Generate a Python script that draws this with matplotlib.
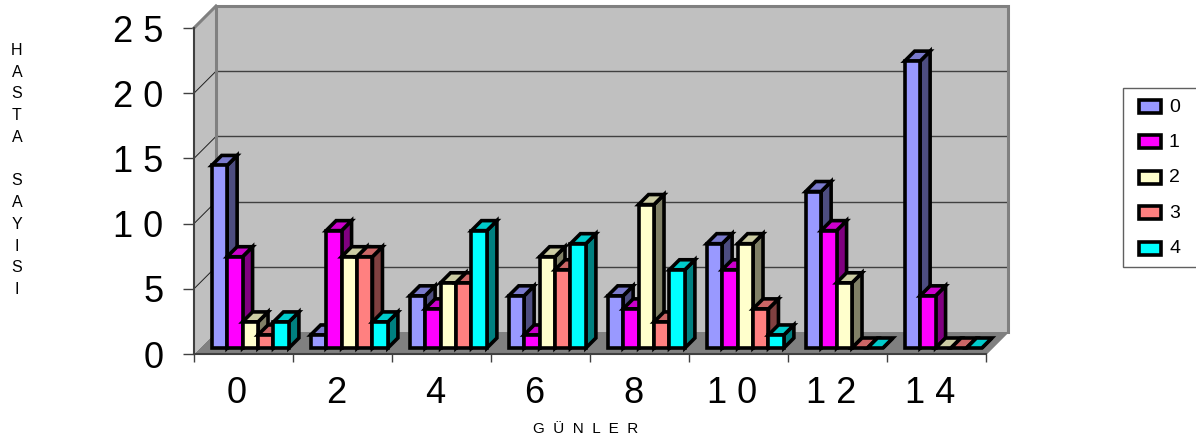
import matplotlib
matplotlib.use("Agg")
import matplotlib.pyplot as plt
from matplotlib.patches import Polygon, Rectangle

plt.rcParams['font.family'] = ['Liberation Sans', 'DejaVu Sans']

days = ['0', '2', '4', '6', '8', '1 0', '1 2', '1 4']
series_names = ['0', '1', '2', '3', '4']
s0 = [14, 1, 4, 4, 4, 8, 12, 22]
s1 = [7, 9, 3, 1, 3, 6, 9, 4]
s2 = [2, 7, 5, 7, 11, 8, 5, 0]
s3 = [1, 7, 5, 6, 2, 3, 0, 0]
s4 = [2, 2, 9, 8, 6, 1, 0, 0]
series = [s0, s1, s2, s3, s4]
y_ticks = [0, 5, 10, 15, 20, 25]
y_labels = ['0', '5', '1 0', '1 5', '2 0', '2 5']

front = ['#9999FF', '#FF00FF', '#FFFFCC', '#FF8080', '#00FFFF']
top = ['#7A7ACC', '#CC00CC', '#CCCCA3', '#CC6666', '#00CCCC']
side = ['#4D4D80', '#800080', '#808066', '#804040', '#008080']

W, H = 1196, 443
# plot box in pixels, front plane of the fake 3d box
left, right, y_base, y_top = 194, 986, 354, 28
wall = 22
bar_depth = 10
bar_inset = 6
gap = 0.22
edge = 2.6

fig = plt.figure(figsize=(W / 100, H / 100), dpi=100)
ax = fig.add_axes([left / W, 1 - y_base / H, (right - left) / W, (y_base - y_top) / H])
ax.set_xlim(0, len(days))
ax.set_ylim(0, 25)
ax.patch.set_visible(False)

ux = (right - left) / len(days)
uy = (y_base - y_top) / 25.0


def shift(x, y, d):
    # move a data point d pixels back into the box
    return (x + d / ux, y + d / uy)


def poly(points, fc, ec='none', lw=0, z=1):
    ax.add_patch(Polygon(points, closed=True, fc=fc, ec=ec, lw=lw, zorder=z,
                         clip_on=False, joinstyle='miter'))


n = len(days)
# walls and floor
poly([(0, 0), shift(0, 0, wall), shift(n, 0, wall), (n, 0)], '#808080')
poly([shift(0, 0, wall), shift(0, 25, wall), shift(n, 25, wall), shift(n, 0, wall)], '#C0C0C0')
poly([(0, 0), (0, 25), shift(0, 25, wall), shift(0, 0, wall)], '#C0C0C0')

for v in y_ticks[1:-1]:
    a = shift(0, v, wall)
    b = shift(n, v, wall)
    ax.plot([a[0], b[0]], [a[1], b[1]], color='#404040', lw=1.0, zorder=2, clip_on=False)
    ax.plot([0, a[0]], [v, a[1]], color='#202020', lw=0.7, zorder=2, clip_on=False)

# wall borders
a, b, c, d = shift(0, 0, wall), shift(0, 25, wall), shift(n, 25, wall), shift(n, 0, wall)
ax.plot([a[0], b[0], c[0], d[0]], [a[1], b[1], c[1], d[1]], color='#808080', lw=2.2, zorder=2,
        clip_on=False, solid_joinstyle='miter')
ax.plot([0, b[0]], [25, b[1]], color='#808080', lw=2.2, zorder=2, clip_on=False)
ax.plot([n, d[0]], [0, d[1]], color='#808080', lw=1.2, zorder=2, clip_on=False)

# bars, drawn left to right so nearer faces overlap
bw = (1 - gap) / len(series)
for g in range(n):
    for i, vals in enumerate(series):
        v = vals[g]
        x0, y0 = shift(g + gap / 2 + 0.008 + i * bw, 0, bar_inset)
        x1 = x0 + bw
        y1 = y0 + v
        p_tl = shift(x0, y1, bar_depth)
        p_tr = shift(x1, y1, bar_depth)
        p_br = shift(x1, y0, bar_depth)
        poly([(x1, y0), (x1, y1), p_tr, p_br], side[i], 'black', edge, 3)
        poly([(x0, y1), (x1, y1), p_tr, p_tl], top[i], 'black', edge, 3)
        if v > 0:
            poly([(x0, y0), (x0, y1), (x1, y1), (x1, y0)], front[i], 'black', edge, 3)

ax.spines['top'].set_visible(False)
ax.spines['right'].set_visible(False)
for s in ['left', 'bottom']:
    ax.spines[s].set_linewidth(1.5)
    ax.spines[s].set_color('#404040')
    ax.spines[s].set_zorder(2.5)

ax.set_yticks(y_ticks)
ax.set_yticklabels(y_labels, fontsize=26)
ax.tick_params(axis='y', length=8, width=1, color='#404040', pad=14)
ax.set_xticks(range(n + 1))
ax.set_xticklabels([])
ax.tick_params(axis='x', length=6, width=1, color='#404040')
ax.set_xticks([g + 0.435 for g in range(n)], minor=True)
ax.set_xticklabels(days, minor=True, fontsize=26)
ax.tick_params(axis='x', which='minor', length=0, pad=16)

fig.text(17 / W, 1 - 170 / H, 'H\nA\nS\nT\nA\n \nS\nA\nY\nI\nS\nI', fontsize=11.5, ha='center',
         va='center', linespacing=1.56)
fig.text(586 / W, 1 - 429 / H, 'G  Ü  N  L  E  R', fontsize=11, ha='center', va='center')

# legend, runs off the right edge like the original
fig.add_artist(Rectangle((1123 / W, 1 - 267 / H), 90 / W, 179 / H, transform=fig.transFigure,
                         fc='white', ec='#606060', lw=1.0))
for i, name in enumerate(series_names):
    yc = 106 + i * 35.5
    fig.add_artist(Rectangle((1139 / W, 1 - (yc + 6.5) / H), 22 / W, 13 / H, transform=fig.transFigure,
                             fc=front[i], ec='black', lw=edge))
    fig.text(1169 / W, 1 - (yc + 1) / H, name, fontsize=14, ha='left', va='center')

fig.savefig('out.png', dpi=100)
